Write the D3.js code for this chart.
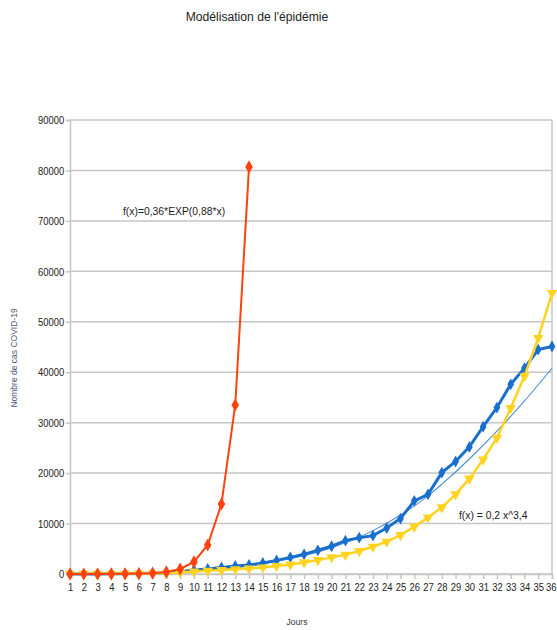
<!DOCTYPE html>
<html>
<head>
<meta charset="utf-8">
<script src="https://cdn.jsdelivr.net/npm/d3@7"></script>
<style>
  body { margin: 0; background: #fff; }
  svg text { font-family: "Liberation Sans Narrow", "Arial Narrow", "Liberation Sans", sans-serif; }
</style>
</head>
<body>
<div id="chart"></div>
<script>
// data
const jours = [1, 2, 3, 4, 5, 6, 7, 8, 9, 10, 11, 12, 13, 14, 15, 16, 17, 18,
               19, 20, 21, 22, 23, 24, 25, 26, 27, 28, 29, 30, 31, 32, 33, 34, 35, 36]
const cas = [12, 14, 18, 38, 57, 100, 130, 190, 450, 800, 1000, 1300, 1600, 1800, 2200, 2700, 3300, 3900,
             4700, 5500, 6600, 7200, 7600, 9100, 11000, 14500, 15800, 20100, 22300, 25200, 29200, 33000, 37600, 40800, 44500, 45100]
const modelePuissance = [20, 25, 30, 40, 50, 70, 100, 150, 300, 500, 650, 800, 950, 1100, 1300, 1600, 1900, 2300,
                         2750, 3300, 3800, 4550, 5400, 6400, 7700, 9400, 11200, 13200, 15800, 18900, 22700, 27000, 32900, 39200, 46800, 55700]
const joursExp = [1, 2, 3, 4, 5, 6, 7, 8, 9, 10, 11, 12, 13, 14]
const modeleExp = [1, 2, 5, 12, 29, 70, 170, 410, 990, 2400, 5750, 13900, 33500, 80700]
const joursTendance = [1, 5, 10, 15, 20, 23, 25, 27, 28, 30, 32, 34, 36]
const tendance = [0, 50, 500, 2000, 5200, 8600, 11700, 15500, 17800, 22800, 28300, 34300, 40800]
const yTicks = [0, 10000, 20000, 30000, 40000, 50000, 60000, 70000, 80000, 90000]

function draw() {
    const width = 557, height = 630
    const plot = { left: 70, right: 552, top: 120, bottom: 574 }
    const narrow = 'scale(0.82, 1)'  // no narrow font installed, squeeze the text instead

    const svg = d3.select('#chart')
        .append('svg')
        .attr('width', width)
        .attr('height', height)

    const xScale = d3.scalePoint()
        .domain(jours)
        .range([plot.left, plot.right])

    const yScale = d3.scaleLinear()
        .domain([0, 90000])
        .range([plot.bottom, plot.top])

    // grid
    svg.append('g')
        .selectAll('line')
        .data(yTicks)
        .join('line')
        .attr('x1', plot.left)
        .attr('x2', plot.right)
        .attr('y1', d => yScale(d))
        .attr('y2', d => yScale(d))
        .attr('stroke', '#c6c6c6')
        .attr('stroke-width', 1.5)

    // right border
    svg.append('line')
        .attr('x1', plot.right).attr('x2', plot.right)
        .attr('y1', plot.top).attr('y2', plot.bottom)
        .attr('stroke', '#c6c6c6')
        .attr('stroke-width', 1.5)

    // axes
    const yAxis = svg.append('g')
        .attr('transform', `translate(${plot.left}, 0)`)
        .call(d3.axisLeft(yScale).tickValues(yTicks).tickSize(4).tickPadding(3).tickFormat(d3.format('d')))
    yAxis.selectAll('path, line').attr('stroke', '#c6c6c6').attr('stroke-width', 1.5)
    yAxis.selectAll('text')
        .attr('font-size', 11.5)
        .attr('fill', '#222')
        .attr('transform', narrow)

    const xAxis = svg.append('g')
        .attr('transform', `translate(0, ${plot.bottom})`)
        .call(d3.axisBottom(xScale).tickSize(5).tickPadding(4))
    xAxis.select('.domain').attr('stroke', '#c6c6c6').attr('stroke-width', 1.5)
    xAxis.selectAll('line').attr('stroke', '#c6c6c6').attr('stroke-width', 1.5)
    xAxis.selectAll('text')
        .attr('font-size', 11.5)
        .attr('fill', '#222')
        .attr('transform', narrow)
    xAxis.selectAll('text').filter(d => d === 36).attr('dx', -1.5)

    const line = (xs, ys) => d3.line()
        .x((d, i) => xScale(xs[i]))
        .y(d => yScale(d))(ys)

    // trend line
    svg.append('path')
        .attr('d', d3.line()
            .curve(d3.curveMonotoneX)
            .x((d, i) => xScale(joursTendance[i]))
            .y(d => yScale(d))(tendance))
        .attr('fill', 'none')
        .attr('stroke', '#4a8fd8')
        .attr('stroke-width', 1.1)

    const diamond = d3.symbol().type(d3.symbolDiamond)

    // cas (blue)
    svg.append('path')
        .attr('d', line(jours, cas))
        .attr('fill', 'none')
        .attr('stroke', '#1a6fce')
        .attr('stroke-width', 3)
    svg.append('g')
        .selectAll('path')
        .data(cas)
        .join('path')
        .attr('transform', (d, i) => `translate(${xScale(jours[i])}, ${yScale(d)})`)
        .attr('d', diamond.size(40)())
        .attr('fill', '#1a6fce')

    // modele puissance (yellow)
    svg.append('path')
        .attr('d', line(jours, modelePuissance))
        .attr('fill', 'none')
        .attr('stroke', '#ffd320')
        .attr('stroke-width', 2.5)
    svg.append('g')
        .selectAll('path')
        .data(modelePuissance)
        .join('path')
        .attr('transform', (d, i) => `translate(${xScale(jours[i])}, ${yScale(d)}) rotate(180)`)
        .attr('d', d3.symbol().type(d3.symbolTriangle).size(48)())
        .attr('fill', '#ffd320')

    // modele exponentiel (red)
    svg.append('path')
        .attr('d', line(joursExp, modeleExp))
        .attr('fill', 'none')
        .attr('stroke', '#ff420e')
        .attr('stroke-width', 2)
    svg.append('g')
        .selectAll('path')
        .data(modeleExp)
        .join('path')
        .attr('transform', (d, i) => `translate(${xScale(joursExp[i])}, ${yScale(d)})`)
        .attr('d', diamond.size(50)())
        .attr('fill', '#ff420e')

    // texts
    svg.append('text')
        .attr('transform', 'translate(257, 21) scale(0.9, 1)')
        .attr('text-anchor', 'middle')
        .attr('font-size', 13.5)
        .attr('fill', '#222')
        .text("Modélisation de l'épidémie")

    svg.append('text')
        .attr('transform', 'translate(297, 625) scale(0.9, 1)')
        .attr('text-anchor', 'middle')
        .attr('font-size', 9.5)
        .attr('fill', '#333')
        .text('Jours')

    svg.append('text')
        .attr('transform', 'translate(17, 358) rotate(-90)')
        .attr('text-anchor', 'middle')
        .attr('font-size', 8.5)
        .attr('fill', '#4a5878')
        .text('Nombre de cas COVID-19')

    svg.append('text')
        .attr('transform', 'translate(123, 215) scale(0.9, 1)')
        .attr('font-size', 11.5)
        .attr('fill', '#222')
        .text('f(x)=0,36*EXP(0,88*x)')

    svg.append('text')
        .attr('transform', 'translate(459, 519) scale(0.9, 1)')
        .attr('font-size', 11.5)
        .attr('fill', '#222')
        .text('f(x) = 0,2 x^3,4')
}

draw()
</script>
</body>
</html>
